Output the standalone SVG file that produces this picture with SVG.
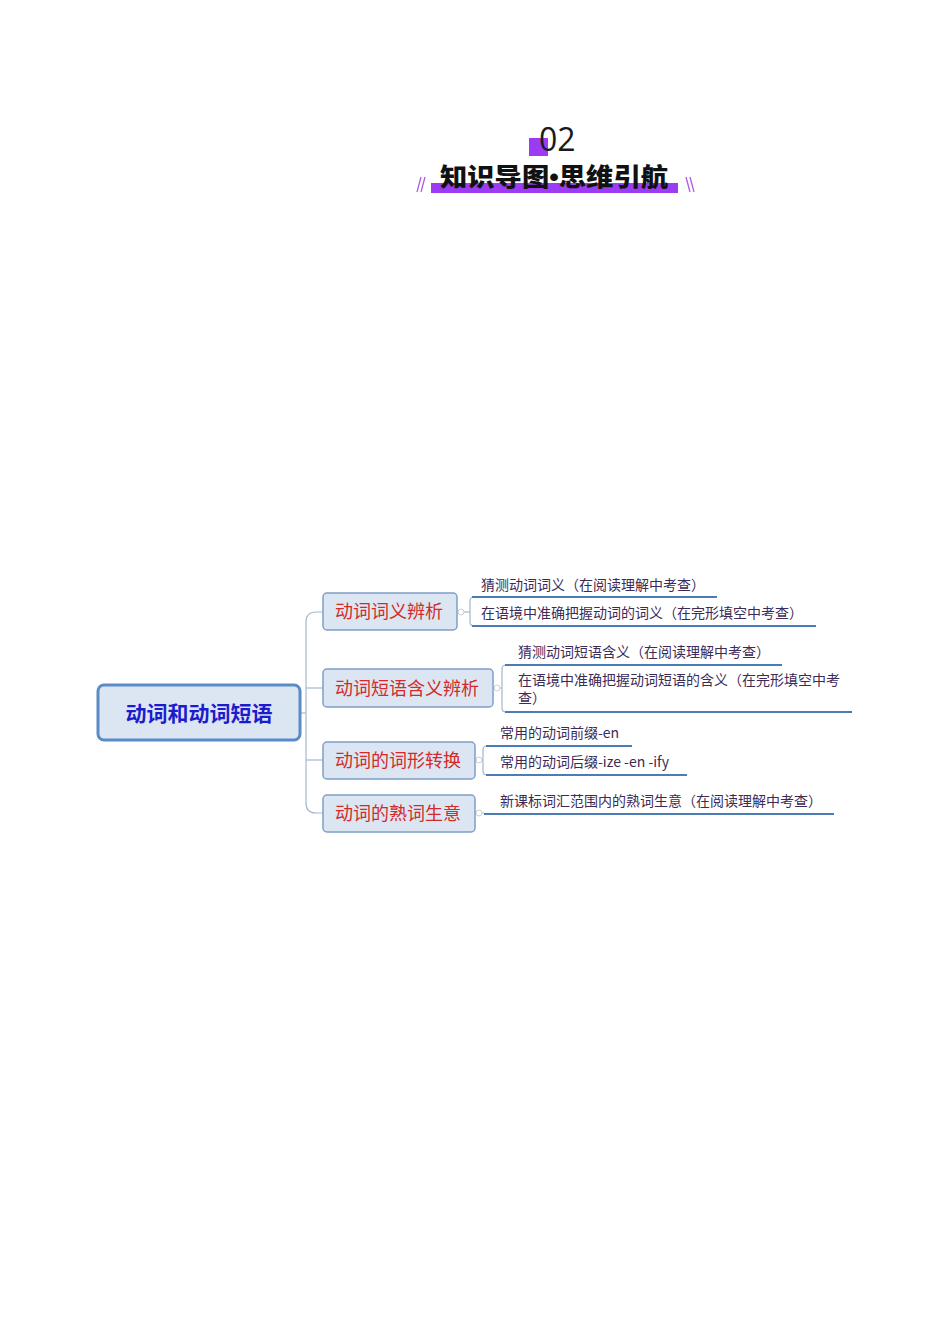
<svg xmlns="http://www.w3.org/2000/svg" width="950" height="1344" viewBox="0 0 950 1344">
<style>
.cjk{font-family:"Noto Sans CJK SC","Noto Sans",sans-serif}
.branch rect{fill:#dce6f2;stroke:#7d9fc8;stroke-width:1.5}
.branch text{font-size:18px;fill:#d42a2a}
.leaf text{font-size:14px;fill:#3d2b56}
.ul{fill:none;stroke:#4c7cb6;stroke-width:2}
.conn{fill:none;stroke:#a3b7cc;stroke-width:1.2}
.knob{fill:#fff;stroke:#c6d0da;stroke-width:1}
</style>
<rect width="950" height="1344" fill="#fff"/>
<g id="title">
<rect x="529" y="138" width="19" height="18" fill="#9b3cf2"/>
<text x="539" y="151" font-family="'Open Sans',sans-serif" font-weight="400" font-size="32" fill="#1a1a1a">02</text>
<rect x="431" y="183" width="247" height="10" fill="#9b3cf2"/>
<text x="440" y="186" class="cjk" font-weight="900" font-size="25" fill="#111" textLength="228" lengthAdjust="spacingAndGlyphs">知识导图<tspan font-family="'Liberation Sans',sans-serif">•</tspan>思维引航</text>
<path d="M417,192 L421,177 M421,192 L425,177" stroke="#b25ae8" stroke-width="1.3"/>
<path d="M686,177 L690,192 M690,177 L694,192" stroke="#b25ae8" stroke-width="1.3"/>
</g>
<g id="connectors">
<path class="conn" d="M300,713 L306,713"/>
<path class="conn" d="M323,612 L316,612 Q306,612 306,622 L306,803 Q306,813 316,813 L323,813"/>
<path class="conn" d="M306,688 L323,688"/>
<path class="conn" d="M306,760 L323,760"/>
<path class="conn" d="M464,612 L470,612"/>
<path class="conn" d="M500,688 L502,688"/>
<path class="conn" d="M482,760 L483,760"/>
<path class="conn" d="M482,813 L484,813"/>
<path class="conn" d="M474,597 Q470,597 470,601 L470,622 Q470,626 474,626"/>
<path class="conn" d="M506,665 Q502,665 502,669 L502,708 Q502,712 506,712"/>
<path class="conn" d="M487,746 Q483,746 483,750 L483,771 Q483,775 487,775"/>
<path class="ul" d="M472,597 L717,597"/>
<path class="ul" d="M472,626 L816,626"/>
<path class="ul" d="M505,665 L782,665"/>
<path class="ul" d="M505,712 L852,712"/>
<path class="ul" d="M486,746 L632,746"/>
<path class="ul" d="M486,775 L687,775"/>
<path class="ul" d="M484,814 L834,814"/>
<circle class="knob" cx="461" cy="612" r="3"/>
<circle class="knob" cx="497" cy="688" r="3"/>
<circle class="knob" cx="479" cy="760" r="3"/>
<circle class="knob" cx="479" cy="813" r="3"/>
</g>
<g id="root">
<rect x="98" y="685" width="202" height="55" rx="6" fill="#dce6f2" stroke="#5b8bc7" stroke-width="3"/>
<text x="199" y="721" text-anchor="middle" class="cjk" font-weight="700" font-size="21" fill="#1c1ccc">动词和动词短语</text>
</g>
<g id="b1" class="branch">
<rect x="323" y="593" width="134" height="37" rx="4"/>
<text x="335" y="618" class="cjk">动词词义辨析</text>
</g>
<g id="b2" class="branch">
<rect x="323" y="669" width="170" height="38" rx="4"/>
<text x="335" y="695" class="cjk">动词短语含义辨析</text>
</g>
<g id="b3" class="branch">
<rect x="323" y="742" width="152" height="37" rx="4"/>
<text x="335" y="767" class="cjk">动词的词形转换</text>
</g>
<g id="b4" class="branch">
<rect x="323" y="795" width="152" height="37" rx="4"/>
<text x="335" y="820" class="cjk">动词的熟词生意</text>
</g>
<g id="l1a" class="leaf"><text x="481" y="590" class="cjk">猜测动词词义（在阅读理解中考查）</text></g>
<g id="l1b" class="leaf"><text x="481" y="618" class="cjk">在语境中准确把握动词的词义（在完形填空中考查）</text></g>
<g id="l2a" class="leaf"><text x="518" y="657" class="cjk">猜测动词短语含义（在阅读理解中考查）</text></g>
<g id="l2b" class="leaf"><text x="518" y="685" class="cjk">在语境中准确把握动词短语的含义（在完形填空中考</text><text x="518" y="703" class="cjk">查）</text></g>
<g id="l3a" class="leaf"><text x="500" y="738" class="cjk">常用的动词前缀-en</text></g>
<g id="l3b" class="leaf"><text x="500" y="767" class="cjk">常用的动词后缀-ize -en -ify</text></g>
<g id="l4" class="leaf"><text x="500" y="806" class="cjk">新课标词汇范围内的熟词生意（在阅读理解中考查）</text></g>
</svg>
